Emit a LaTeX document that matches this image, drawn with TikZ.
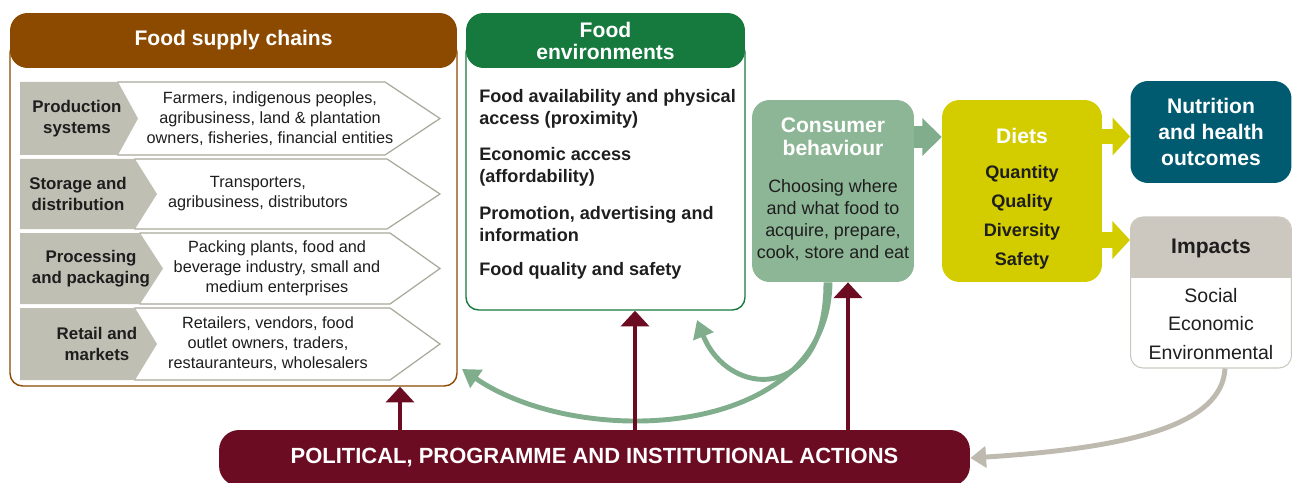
\documentclass[tikz,border=0pt]{standalone}
\usepackage{fontspec}
\setmainfont{Liberation Sans}
\usetikzlibrary{arrows.meta,%
		calc,%
		positioning}

\definecolor{fscbrown}{RGB}{140,74,0}
\definecolor{fegreen}{RGB}{22,122,62}
\definecolor{cbsage}{RGB}{141,182,150}
\definecolor{cbarrow}{RGB}{128,174,141}
\definecolor{dietyel}{RGB}{211,205,0}
\definecolor{nutteal}{RGB}{0,91,112}
\definecolor{impgray}{RGB}{204,200,191}
\definecolor{impline}{RGB}{190,186,176}
\definecolor{polred}{RGB}{107,12,35}
\definecolor{chevgray}{RGB}{191,191,179}
\definecolor{chevline}{RGB}{168,168,155}
\definecolor{txtdark}{RGB}{30,30,30}

\begin{document}
\begin{tikzpicture}[x=0.02cm,y=-0.02cm,
	head/.style={text=white,align=center,font=\fontsize{12}{13}\selectfont\bfseries},
	rowlab/.style={text=txtdark,align=center,inner sep=0pt,font=\fontsize{9.6}{11.9}\selectfont\bfseries},
	rowtxt/.style={text=txtdark,align=center,inner sep=0pt,font=\fontsize{9.25}{11.3}\selectfont},
	feitem/.style={text=txtdark,anchor=west,align=left,inner sep=0pt,font=\fontsize{10.3}{12.5}\selectfont\bfseries},
	cbtxt/.style={text=txtdark,align=center,inner sep=0pt,font=\fontsize{10.2}{12.5}\selectfont},
	dietitem/.style={text=txtdark,align=center,inner sep=0pt,font=\fontsize{10.3}{16.4}\selectfont\bfseries},
	impitem/.style={text=txtdark,align=center,inner sep=0pt,font=\fontsize{11.1}{16.4}\selectfont},
	polarrow/.style={polred,line width=2.8pt,-{Triangle[length=9pt,width=16pt]}},
	cbcurve/.style={cbarrow,line width=2.8pt,-{Triangle[length=10pt,width=12pt]}},
	impcurve/.style={impline,line width=2.8pt,-{Triangle[length=9pt,width=12pt]}},
	cbblock/.style={cbarrow,line width=12.5pt,-{Triangle[length=11pt,width=21pt]}},
	dietblock/.style={dietyel,line width=9pt,-{Triangle[length=10pt,width=21pt]}}]

\useasboundingbox (0,0) rectangle (1292,483);

% food supply chains
\node[draw=fscbrown,line width=0.8pt,rounded corners=0.25cm,minimum width=8.94cm,minimum height=6.92cm] (fsbox) at (233.5,213) {};
\node[fill=fscbrown,rounded corners=0.35cm,minimum width=8.94cm,minimum height=1.1cm,head] (fshead) at (233.5,40.5) {Food supply chains};

\filldraw[chevline,fill=white,line width=0.7pt] (118,82) -- (385,82) -- (440,118.5) -- (385,155) -- (118,155) -- cycle;
\fill[chevgray] (20,82) -- (118,82) -- (138,118.5) -- (118,155) -- (20,155) -- cycle;
\node[rowlab] (prodlab) at (77,118.5) {Production\\systems};
\node[rowtxt] (prodtxt) at (270,118.5) {Farmers, indigenous peoples,\\agribusiness, land \& plantation\\owners, fisheries, financial entities};

\filldraw[chevline,fill=white,line width=0.7pt] (135,159) -- (387,159) -- (440,194) -- (387,229) -- (135,229) -- cycle;
\fill[chevgray] (20,159) -- (135,159) -- (157,194) -- (135,229) -- (20,229) -- cycle;
\node[rowlab] (storlab) at (78,194) {Storage and\\distribution};
\node[rowtxt] (stortxt) at (258,194) {Transporters,\\agribusiness, distributors};

\filldraw[chevline,fill=white,line width=0.7pt] (140,233) -- (390,233) -- (440,268.5) -- (390,304) -- (140,304) -- cycle;
\fill[chevgray] (20,233) -- (140,233) -- (163,268.5) -- (140,304) -- (20,304) -- cycle;
\node[rowlab] (proclab) at (91,268.5) {Processing\\and packaging};
\node[rowtxt] (proctxt) at (277,268.5) {Packing plants, food and\\beverage industry, small and\\medium enterprises};

\filldraw[chevline,fill=white,line width=0.7pt] (135,308) -- (390,308) -- (440,344) -- (390,380) -- (135,380) -- cycle;
\fill[chevgray] (20,308) -- (135,308) -- (157,344) -- (135,380) -- (20,380) -- cycle;
\node[rowlab] (retlab) at (97,344) {Retail and\\markets};
\node[rowtxt] (rettxt) at (268,344) {Retailers, vendors, food\\outlet owners, traders,\\restauranteurs, wholesalers};

% food environments
\node[draw=fegreen,line width=0.8pt,rounded corners=0.25cm,minimum width=5.58cm,minimum height=5.4cm] (febox) at (605.5,175) {};
\node[fill=fegreen,rounded corners=0.35cm,minimum width=5.58cm,minimum height=1.1cm,head,font=\fontsize{12}{12.5}\selectfont\bfseries] (fehead) at (605.5,40.5) {Food\\environments};
\node[feitem] (fe1) at (479,109) {Food availability and physical\\access (proximity)};
\node[feitem] (fe2) at (479,166.5) {Economic access\\(affordability)};
\node[feitem] (fe3) at (479,224.5) {Promotion, advertising and\\information};
\node[feitem] (fe4) at (479,271) {Food quality and safety};

% consumer behaviour
\node[fill=cbsage,rounded corners=0.35cm,minimum width=3.24cm,minimum height=3.64cm] (cons) at (833,191) {};
\node[head] (constitle) at (833,136.5) {Consumer\\behaviour};
\node[cbtxt] (constxt) at (833,220) {Choosing where\\and what food to\\acquire, prepare,\\cook, store and eat};

% diets
\node[fill=dietyel,rounded corners=0.35cm,minimum width=3.2cm,minimum height=3.64cm] (diets) at (1022,191) {};
\node[head] (dietstitle) at (1022,136) {Diets};
\node[dietitem] (dietsitems) at (1022,217.5) {Quantity\\Quality\\Diversity\\Safety};

% outcomes
\node[fill=nutteal,rounded corners=0.35cm,minimum width=3.22cm,minimum height=2.04cm,head,font=\fontsize{12}{14.7}\selectfont\bfseries] (nut) at (1211,132) {Nutrition\\and health\\outcomes};

\node[draw=impline!80,line width=0.6pt,rounded corners=0.25cm,minimum width=3.22cm,minimum height=3.02cm] (impbox) at (1211,292.5) {};
\begin{scope}
\clip (1120,200) rectangle (1300,277);
\fill[impgray,rounded corners=0.25cm] (1130,217) rectangle (1291,300);
\end{scope}
\node[head,text=txtdark] (imptitle) at (1211,248) {Impacts};
\node[impitem] (impitems) at (1211,324) {Social\\Economic\\Environmental};

% actions
\node[fill=polred,rounded corners=0.4cm,minimum width=15.02cm,minimum height=1.12cm,text=white,font=\fontsize{12.5}{14}\selectfont\bfseries] (pol) at (594.5,458) {POLITICAL, PROGRAMME AND INSTITUTIONAL ACTIONS};

\coordinate (fsin) at (462,369);
\coordinate (fein) at (697,320);

\draw[cbblock] (cons.east |- 0,137) -- (diets.west |- 0,137);
\draw[dietblock] (diets.east |- 0,136.5) -- (nut.west |- 0,136.5);
\draw[dietblock] (diets.east |- 0,240) -- (impbox.west |- 0,240);

\draw[cbcurve] (830,0 |- cons.south) .. controls (828,440) and (580,450) .. (fsin);
\draw[cbcurve] (826,0 |- cons.south) .. controls (826,405) and (728,398) .. (fein);
\draw[impcurve] (1225,0 |- impbox.south) .. controls (1222,425) and (1130,448) .. (pol.east);

\draw[polarrow] (400,0 |- pol.north) -- (400,0 |- fsbox.south);
\draw[polarrow] (635,0 |- pol.north) -- (635,0 |- febox.south);
\draw[polarrow] (848,0 |- pol.north) -- (848,0 |- cons.south);

\end{tikzpicture}
\end{document}
